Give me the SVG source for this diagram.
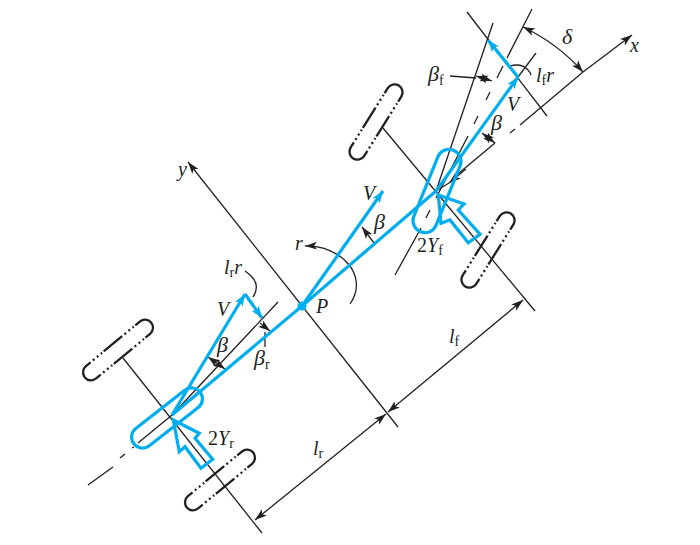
<svg xmlns="http://www.w3.org/2000/svg" width="700" height="545" viewBox="0 0 700 545">
<style>
.k{fill:none;stroke:#231f20;stroke-width:1.3}
.w{fill:none;stroke:#231f20;stroke-width:2.3}
.d{fill:none;stroke:#231f20;stroke-width:2.3;stroke-dasharray:2 3.2}
.b{fill:none;stroke:#00aeef;stroke-width:3.2;stroke-linejoin:miter}
.t{font-family:"Liberation Serif",serif;font-style:italic;font-size:20px;fill:#231f20}
.g{font-size:22px}
.s{font-style:normal;font-size:14px}
.n{font-style:normal}
</style>
<defs>
<marker id="arrowEnd" viewBox="0 0 14 10" markerUnits="userSpaceOnUse" markerWidth="14" markerHeight="10" refX="12" refY="5" orient="auto"><path d="M0,1 L12,5 L0,9 L3,5 Z" fill="#231f20"/></marker>
<marker id="arrowStart" viewBox="0 0 14 10" markerUnits="userSpaceOnUse" markerWidth="14" markerHeight="10" refX="2" refY="5" orient="auto"><path d="M14,1 L2,5 L14,9 L11,5 Z" fill="#231f20"/></marker>
<marker id="blueEnd" viewBox="0 0 14 12" markerUnits="userSpaceOnUse" markerWidth="14" markerHeight="12" refX="12" refY="6" orient="auto"><path d="M0,1.500 L12,6 L0,10.500 L3,6 Z" fill="#00aeef"/></marker>
<g id="wheel">
<path class="w" d="M-29,-8 L-35,-8 A8,8 0 0 0 -35,8 L-29,8 M29,-8 L35,-8 A8,8 0 0 1 35,8 L29,8 M-12,-8 L12,-8 M-12,8 L12,8"/>
<path class="d" d="M-26,-8 L-14,-8 M15,-8 L27,-8 M-26,8 L-14,8 M15,8 L27,8"/>
</g>
</defs>
<g id="connectors">
<path class="k" marker-start="url(#arrowStart)" d="M188,162 L398,427"/>
<path class="k" d="M383,128 L535,311"/>
<path class="k" d="M123,358 L262,533"/>
<path class="k" marker-start="url(#arrowStart)" marker-end="url(#arrowEnd)" d="M523,300 L388,412"/>
<path class="k" marker-start="url(#arrowStart)" marker-end="url(#arrowEnd)" d="M386,414 L255,520"/>
<path class="k" marker-end="url(#arrowEnd)" d="M583,72 L632,35"/>
<path class="k" d="M583,72 L520,125 M515,129 L510,133 M495,143 L453,178"/>
<path class="k" marker-end="url(#arrowEnd)" d="M466,169 L449,183"/>
<path class="k" d="M449,183 L436,191"/>
<path class="k" d="M88,485 L113,467 M120,458 L125,454 M132,448 L134,447 M138,443 L172,415"/>
<path class="k" d="M532,9 L507,58 M503,66 L497,78 M490,92 L486,100 M478,116 L474,124 M468,136 L436,198 M430,210 L426,218 M421,228 L395,275"/>
<path class="k" d="M493,23 L436,191"/>
<path class="k" d="M467,12 L547,116"/>
<path class="k" d="M536,53 L518,77"/>
<path class="k" d="M278,302 L172,415"/>
<path class="k" marker-start="url(#arrowStart)" marker-end="url(#arrowEnd)" d="M523,27 A187,187 0 0 1 583,72"/>
<path class="k" d="M450,76 L476,78"/>
<path class="k" marker-start="url(#arrowStart)" marker-end="url(#arrowEnd)" d="M476,76 L492,81"/>
<path class="k" marker-start="url(#arrowStart)" marker-end="url(#arrowEnd)" d="M482,133 L495,143"/>
<path class="k" d="M510,66 C520,63 528,67 531,75"/>
<path class="k" marker-start="url(#arrowStart)" marker-end="url(#arrowEnd)" d="M208,357 L225,369"/>
<path class="k" d="M265,347 L265,332"/>
<path class="k" marker-end="url(#arrowEnd)" d="M260,323 L270,331"/>
<path class="k" d="M245,271 C257,279 259,288 253,297"/>
<path class="k" marker-start="url(#arrowStart)" d="M305,246 C340,245 370,275 350,304"/>
<path class="k" marker-end="url(#arrowEnd)" d="M374,243 L362,227"/>
<path class="b" d="M172,415 L302,306 L436,191"/>
<circle cx="302" cy="306" r="4.500" fill="#00aeef"/>
<path class="b" marker-end="url(#blueEnd)" d="M302,306 L383,191"/>
<path class="b" marker-end="url(#blueEnd)" d="M172,415 L245,294"/>
<path class="b" marker-end="url(#blueEnd)" d="M245,294 L262,318"/>
<path class="b" marker-end="url(#blueEnd)" d="M436,191 L518,77"/>
<path class="b" marker-end="url(#blueEnd)" d="M518,77 L488,40"/>
</g>
<g id="tire-front"><rect class="b" x="-44" y="-12" width="88" height="24" rx="12" transform="translate(437,191) rotate(-68)"/></g>
<g id="tire-rear"><rect class="b" x="-42" y="-11" width="84" height="22" rx="11" transform="translate(167,418) rotate(-38)"/></g>
<g id="force-front"><path class="b" d="M438.300,195 L464,204 L458.300,210 L480,234.300 L468.300,242.700 L450,220 L441,223.300 Z"/></g>
<g id="force-rear"><path class="b" d="M173.300,420 L199.300,433.300 L195,438.300 L212.700,459.300 L201,468.300 L185,446.700 L179.300,451.700 Z"/></g>
<g id="wheel-rl"><use href="#wheel" transform="translate(118,350) rotate(-39.600)"/></g>
<g id="wheel-rr"><use href="#wheel" transform="translate(220,480) rotate(-39.600)"/></g>
<g id="wheel-fl"><use href="#wheel" transform="translate(376,122) rotate(-58)"/></g>
<g id="wheel-fr"><use href="#wheel" transform="translate(488,250) rotate(-58)"/></g>
<g id="labels">
<text class="t" x="630" y="52">x</text>
<text class="t g" x="562" y="44">δ</text>
<text class="t" x="428" y="81"><tspan class="g">β</tspan><tspan class="s" dy="4">f</tspan></text>
<text class="t" x="536" y="82">l<tspan class="s" dy="3">f</tspan><tspan dy="-3">r</tspan></text>
<text class="t" x="507" y="111">V</text>
<text class="t g" x="491" y="130">β</text>
<text class="t" x="417" y="252"><tspan class="n">2</tspan>Y<tspan class="s" dy="3">f</tspan></text>
<text class="t" x="363" y="200">V</text>
<text class="t g" x="374" y="229">β</text>
<text class="t" x="178" y="176">y</text>
<text class="t" x="295" y="250">r</text>
<text class="t" x="316" y="313">P</text>
<text class="t" x="224" y="274">l<tspan class="s" dy="3">r</tspan><tspan dy="-3">r</tspan></text>
<text class="t" x="217" y="316">V</text>
<text class="t g" x="217" y="352">β</text>
<text class="t" x="254" y="365"><tspan class="g">β</tspan><tspan class="s" dy="4">r</tspan></text>
<text class="t" x="208" y="445"><tspan class="n">2</tspan>Y<tspan class="s" dy="3">r</tspan></text>
<text class="t" x="313" y="455">l<tspan class="s" dy="3">r</tspan></text>
<text class="t" x="449" y="343">l<tspan class="s" dy="3">f</tspan></text>
</g>
</svg>
